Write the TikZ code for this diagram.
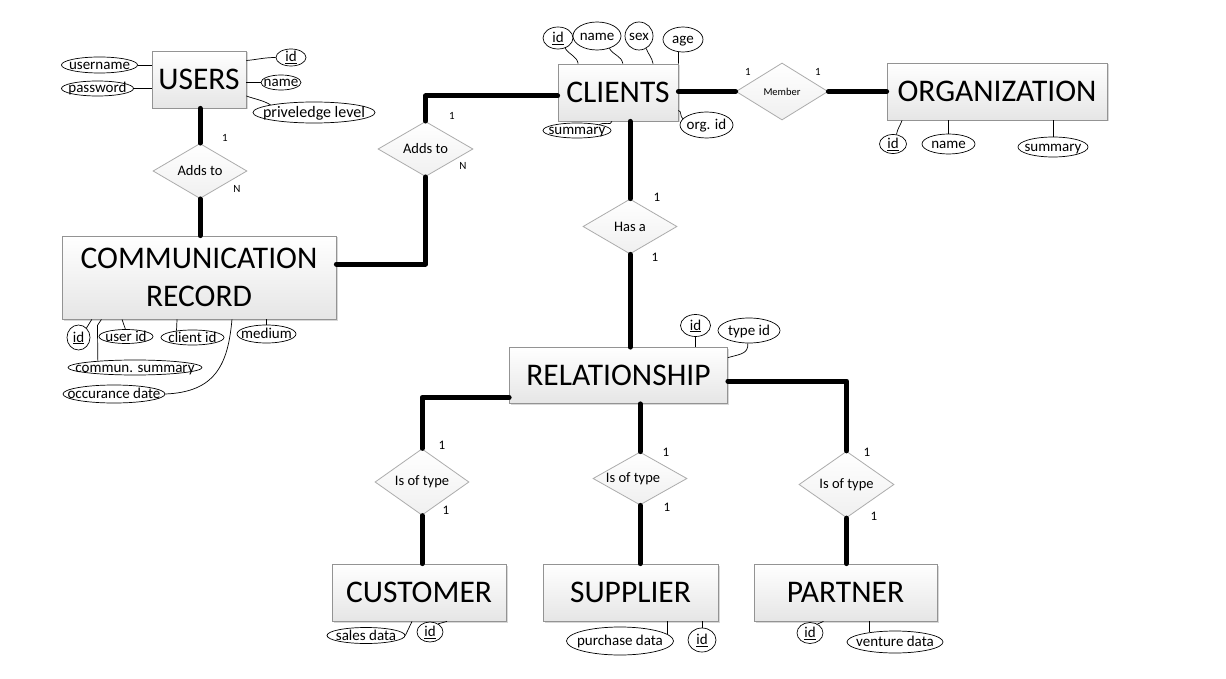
\documentclass[tikz,border=0pt]{standalone}
\usepackage{fontspec}
\setmainfont{Carlito}
\usetikzlibrary{shapes.geometric,shadows,calc}
\newcommand\attext[1]{\raisebox{-0.3em}[0pt][0pt]{\makebox[0pt]{#1}}}
\begin{document}
\begin{tikzpicture}[x=1pt,y=1pt,
 entity/.style={rectangle, draw=gray!85, top color=white, bottom color=gray!20, line width=0.8pt,
   font=\fontsize{31.5}{38}\selectfont, inner sep=0pt, align=center,
   drop shadow={shadow xshift=1.5pt, shadow yshift=-1.5pt, opacity=0.3}},
 relbox/.style={diamond, draw=gray!65, top color=white, bottom color=gray!12, line width=0.8pt,
   inner sep=0pt, font=\fontsize{14.5}{17}\selectfont},
 attr/.style={ellipse, draw=black, line width=0.7pt, inner sep=0pt, fill=white,
   font=\fontsize{15}{17}\selectfont},
 link/.style={line width=5pt, line cap=round, line join=round},
 thinline/.style={line width=0.7pt},
 card/.style={font=\fontsize{13}{15}\selectfont, inner sep=0pt},
 cardsm/.style={font=\fontsize{11}{13}\selectfont, inner sep=0pt},
]
\fill[white] (0,0) rectangle (1226,-679);
\path[use as bounding box] (0,0) rectangle (1226,-679);

% entities
\node[entity, minimum width=94, minimum height=57] (users) at (199,-79.5) {USERS};
\node[entity, minimum width=120, minimum height=57] (clients) at (618,-92.5) {CLIENTS};
\node[entity, minimum width=220, minimum height=57] (org) at (997,-91.5) {ORGANIZATION};
\node[entity, minimum width=274, minimum height=83] (comm) at (199,-277.5) {COMMUNICATION\\RECORD};
\node[entity, minimum width=218, minimum height=56] (relship) at (618.5,-375.5) {RELATIONSHIP};
\node[entity, minimum width=174, minimum height=57] (cust) at (419,-592.5) {CUSTOMER};
\node[entity, minimum width=175, minimum height=57] (supp) at (630.5,-592.5) {SUPPLIER};
\node[entity, minimum width=183, minimum height=57] (part) at (845.5,-592.5) {PARTNER};

% relationships
\node[relbox, minimum width=94, minimum height=53] (adds1) at (200,-171) {Adds to};
\node[relbox, minimum width=95, minimum height=54] (adds2) at (425.5,-149) {Adds to};
\node[relbox, minimum width=92, minimum height=57, font=\fontsize{10.5}{12}\selectfont] (member) at (782,-91.5) {Member};
\node[relbox, minimum width=94, minimum height=55] (hasa) at (630,-226.5) {Has a};
\node[relbox, minimum width=94, minimum height=54] (iot1) at (422,-482) {Is of type};
\node[relbox, minimum width=94, minimum height=53] (iot2) at (640,-478.5) {\makebox[0pt]{Is of type\hspace{14pt}}};
\node[relbox, minimum width=95, minimum height=53] (iot3) at (846.5,-484.5) {Is of type};

% connectors
\draw[link] (adds1.north |- users.south) -- (adds1.north);
\draw[link] (adds1.south) -- (adds1.south |- comm.north);
\draw[link] ([yshift=13.5]comm.east) -| (adds2.south);
\draw[link] (adds2.north) |- ([yshift=-3.5]clients.west);
\draw[link] (clients.east |- member.west) -- (member.west);
\draw[link] (member.east) -- (org.west |- member.east);
\draw[link] (hasa.north |- clients.south) -- (hasa.north);
\draw[link] (hasa.south) -- (hasa.south |- relship.north);
\draw[link] ([yshift=-22]relship.west) -| (iot1.north);
\draw[link] (iot1.south) -- (iot1.south |- cust.north);
\draw[link] (iot2.north |- relship.south) -- (iot2.north);
\draw[link] (iot2.south) -- (iot2.south |- supp.north);
\draw[link] ([yshift=-5.5]relship.east) -| (iot3.north);
\draw[link] (iot3.south) -- (iot3.south |- part.north);

% cardinalities
\node[cardsm] (c1) at (225,-138) {1};
\node[cardsm] (c2) at (237,-189) {N};
\node[cardsm] (c3) at (452,-116) {1};
\node[cardsm] (c4) at (463,-166) {N};
\node[cardsm] (c5) at (748,-72) {1};
\node[cardsm] (c6) at (818,-72) {1};
\node[card] (c7) at (657,-197) {1};
\node[card] (c8) at (655,-257) {1};
\node[card] (c9) at (442,-445) {1};
\node[card] (c10) at (446,-510) {1};
\node[card] (c11) at (666,-452) {1};
\node[card] (c12) at (667,-507) {1};
\node[card] (c13) at (867,-452) {1};
\node[card] (c14) at (874,-516) {1};

% USERS attributes
\node[attr, minimum width=76, minimum height=16] (uname) at (99.5,-65) {\attext{username}};
\node[attr, minimum width=72, minimum height=15] (upass) at (97.5,-88.5) {\attext{password}};
\node[attr, minimum width=30, minimum height=17] (uid) at (291,-57.5) {\attext{\underline{id}}};
\node[attr, minimum width=40, minimum height=15] (uname2) at (281,-82.5) {\attext{name}};
\node[attr, minimum width=122, minimum height=21, font=\fontsize{16}{18}\selectfont] (upriv) at (314,-112.5) {\attext{priveledge level}};
\draw[thinline] (uname.east) -- (users.west |- uname.east);
\draw[thinline] (upass.east) -- (users.west |- upass.east);
\draw[thinline] (users.east |- 0,-60.5) to[out=5,in=180] (uid.west);
\draw[thinline] (users.east |- uname2.west) -- (uname2.west);
\draw[thinline] (users.east |- 0,-96) to[out=-20,in=150] (upriv.170);

% CLIENTS attributes
\node[attr, minimum width=30, minimum height=22] (cid) at (558,-38) {\attext{\underline{id}}};
\node[attr, minimum width=48, minimum height=28] (cname) at (597,-36) {\attext{name}};
\node[attr, minimum width=28, minimum height=28] (csex) at (639,-36) {\attext{sex}};
\node[attr, minimum width=40, minimum height=25] (cage) at (683,-39.5) {\attext{age}};
\node[attr, minimum width=68, minimum height=15] (csum) at (577,-130.5) {\attext{summary}};
\node[attr, minimum width=53, minimum height=26] (corg) at (706.5,-125) {\attext{org. id}};
\draw[thinline] (cid.-55) to[out=-60,in=100] ($(clients.north west)!0.17!(clients.north east)$);
\draw[thinline] (cname.-45) to[out=-60,in=100] ($(clients.north west)!0.54!(clients.north east)$);
\draw[thinline] (csex.-60) to[out=-70,in=100] ($(clients.north west)!0.79!(clients.north east)$);
\draw[thinline] (cage.-110) -- (clients.north east);
\draw[thinline] (csum.15) to[out=40,in=-100] ($(clients.south west)!0.45!(clients.south east)$);
\draw[thinline] ([yshift=-18]clients.east) to[out=-10,in=150] (corg.165);

% ORGANIZATION attributes
\node[attr, minimum width=27, minimum height=19] (oid) at (893,-144) {\attext{\underline{id}}};
\node[attr, minimum width=53, minimum height=20] (oname) at (948.5,-144) {\attext{name}};
\node[attr, minimum width=70, minimum height=20] (osum) at (1053,-147) {\attext{summary}};
\draw[thinline] ($(org.south west)!0.07!(org.south east)$) to[out=-110,in=80] (oid.70);
\draw[thinline] (oname.north |- org.south) -- (oname.north);
\draw[thinline] (osum.north |- org.south) -- (osum.north);

% COMMUNICATION RECORD attributes
\node[attr, minimum width=23, minimum height=25] (cmid) at (78.5,-337.5) {\attext{\underline{id}}};
\node[attr, minimum width=54, minimum height=14] (cmuid) at (126,-336.5) {\attext{user id}};
\node[attr, minimum width=63, minimum height=15] (cmcid) at (192.5,-337.5) {\attext{client id}};
\node[attr, minimum width=59, minimum height=18] (cmmed) at (266.5,-334) {\attext{medium}};
\node[attr, minimum width=134, minimum height=15] (cmsum) at (135,-367.5) {\attext{commun. summary}};
\node[attr, minimum width=102, minimum height=18] (cmdate) at (114,-394) {\attext{occurance date}};
\draw[thinline] ($(comm.south west)!0.11!(comm.south east)$) -- (cmid.50);
\draw[thinline] ($(comm.south west)!0.145!(comm.south east)$) -- ++(-4,-6) -- (cmsum.170.7);
\draw[thinline] ($(comm.south west)!0.22!(comm.south east)$) -- (cmuid.95);
\draw[thinline] ($(comm.south west)!0.42!(comm.south east)$) -- (cmcid.157);
\draw[thinline] (cmmed.north |- comm.south) -- (cmmed.north);
\draw[thinline] ($(comm.south west)!0.62!(comm.south east)$) .. controls (228,-365) and (215,-392) .. (cmdate.east);

% RELATIONSHIP attributes
\node[attr, minimum width=30, minimum height=22] (rid) at (695.5,-325.5) {\attext{\underline{id}}};
\node[attr, minimum width=62, minimum height=25] (rtype) at (749,-330.5) {\attext{type id}};
\draw[thinline] (rid.south) -- (rid.south |- relship.north);
\draw[thinline] ([yshift=-10.5]relship.north east) .. controls +(15,4) and +(0,-10) .. (rtype.-95);

% CUSTOMER attributes
\node[attr, minimum width=78, minimum height=16] (csd) at (366,-635.5) {\attext{sales data}};
\node[attr, minimum width=26, minimum height=20] (cuid) at (430,-632) {\attext{\underline{id}}};
\draw[thinline] ($(cust.south west)!0.46!(cust.south east)$) -- (csd.east);
\draw[thinline] ($(cust.south west)!0.66!(cust.south east)$) -- (cuid.45);

% SUPPLIER attributes
\node[attr, minimum width=107, minimum height=28] (spd) at (620,-641) {\attext{purchase data}};
\node[attr, minimum width=28, minimum height=24] (sid) at (702,-640) {\attext{\underline{id}}};
\draw[thinline] (spd.8 |- supp.south) -- (spd.8);
\draw[thinline] (sid.north |- supp.south) -- (sid.north);

% PARTNER attributes
\node[attr, minimum width=26, minimum height=21] (pid) at (810,-633) {\attext{\underline{id}}};
\node[attr, minimum width=96, minimum height=22] (pvd) at (895,-642) {\attext{venture data}};
\draw[thinline] ($(part.south west)!0.38!(part.south east)$) -- (pid.50);
\draw[thinline] (pvd.159.4 |- part.south) -- (pvd.159.4);
\end{tikzpicture}
\end{document}
